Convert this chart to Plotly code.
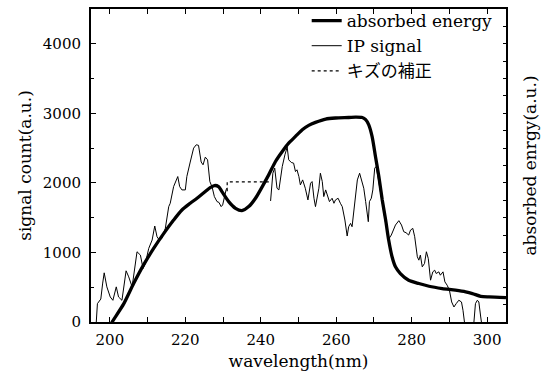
import plotly.graph_objects as go

# IP signal (thin line); None marks the gap that was corrected
ip_wl = [196.2, 196.4, 196.7, 197.3, 197.6, 198.1, 198.5, 199.2, 200.1, 200.8, 201.7, 202.3, 203.2,
         204.3, 205.0, 205.9, 207.2, 208.1, 208.8, 209.4, 210.3, 211.2, 211.9, 212.5, 213.1, 213.8,
         214.7, 215.6, 216.0, 216.9, 218.0, 218.5, 219.1, 220.0, 220.4, 221.3, 222.2, 222.9, 223.5,
         224.2, 224.7, 225.3, 225.9, 226.5, 227.1, 227.7, 228.4, 228.9, 229.5, 229.9, 230.4, 230.8,
         231.1, None,
         242.6, 243.2, 243.7, 244.3, 244.8, 245.7, 246.4, 247.0, 247.4, 248.1, 248.7, 249.2, 249.6,
         250.1, 250.5, 251.1, 251.8, 252.5, 253.2, 253.6, 254.1, 254.5, 255.4, 255.8, 256.3, 256.7,
         257.2, 257.6, 258.2, 258.9, 259.4, 259.8, 260.5, 261.1, 261.6, 262.3, 262.9, 263.3, 263.8,
         264.2, 264.9, 265.6, 266.2, 266.9, 267.3, 267.8, 268.5, 268.8, 269.3, 269.7, 270.2, 270.6,
         271.3, 272.2, 273.1, 274.0, 274.6, 275.7, 276.6, 277.3, 277.9, 278.5, 279.2, 279.7, 280.3,
         280.8, 281.5, 281.9, 282.3, 282.8, 283.4, 283.9, 284.4, 285.0, 285.6, 286.1, 286.5, 287.2,
         287.6, 288.3, 288.8, 289.4, 290.0, 290.6, 291.2, 291.8, 292.5, 293.2, 293.6, 294.1, 295.3,
         296.5, 296.9, 297.4, 297.8, 298.3, 298.6, 299.0]
ip_val = [-60, 0, 264, 312, 330, 560, 707, 505, 360, 312, 505, 360, 312,
          736, 649, 505, 1010, 962, 769, 841, 1058, 1178, 1380, 1226, 1178, 1202,
          1346, 1659, 1707, 1947, 2091, 1947, 1899, 1899, 2091, 2300, 2500, 2548, 2540,
          2300, 2260, 2370, 2332, 2020, 1940, 1803, 1731, 1720, 1659, 1683, 1810, 1899,
          1930, None,
          1740, 2139, 2212, 1923, 1899, 2236, 2404, 2514, 2332, 2293, 2284, 2163, 2188,
          2091, 1971, 2043, 1923, 1755, 1995, 2019, 1779, 1659, 1923, 2139, 2019, 1803,
          1899, 1827, 1731, 1779, 1707, 1755, 1779, 1707, 1659, 1466, 1236, 1370, 1418,
          1370, 1707, 2043, 2139, 2000, 1923, 1731, 1442, 1731, 1779, 1899, 2212, 2236,
          2000, 1700, 1420, 1200, 1250, 1394, 1457, 1394, 1298, 1284, 1250, 1322, 1346,
          1226, 938, 889, 962, 793, 841, 1010, 913, 601, 721, 745, 697, 721,
          673, 721, 577, 529, 457, 288, 216, 264, 313, 288, 168, -50, -200,
          0, 264, 313, 288, 72, -60, -200]

# absorbed energy (thick smooth line)
ae_wl = [200.3, 200.6, 203.7, 206.3, 208.9, 211.6, 214.3, 216.9, 219.1, 221.3, 223.1, 225.3, 226.6,
         227.7, 228.8, 229.7, 231.5, 233.3, 235.0, 236.8, 238.6, 240.4, 242.1, 243.9, 245.7, 247.4,
         249.2, 251.0, 252.7, 254.5, 257.2, 259.8, 263.3, 265.1, 266.9, 267.8, 268.6, 269.5, 270.4,
         271.3, 272.2, 273.1, 273.9, 274.8, 275.7, 277.0, 279.2, 281.9, 284.6, 288.1, 291.6, 294.3,
         296.1, 298.3, 300.5, 305.0]
ae_val = [-30, 0, 264, 553, 817, 1058, 1274, 1466, 1611, 1707, 1779, 1875, 1933,
          1962, 1947, 1875, 1731, 1635, 1601, 1659, 1779, 1947, 2115, 2308, 2452, 2572,
          2668, 2764, 2827, 2870, 2918, 2933, 2940, 2945, 2940, 2909, 2837, 2668, 2380,
          2091, 1755, 1466, 1178, 938, 793, 697, 601, 553, 514, 481, 457, 433,
          409, 370, 361, 351]

# correction of the defect (dotted)
fix_wl = [231.1, 231.1, 242.6]
fix_val = [1880, 2015, 2015]

FONT = "DejaVu Serif, Noto Sans CJK JP, serif"

fig = go.Figure()
fig.add_trace(go.Scatter(x=ae_wl, y=ae_val, mode="lines", name="absorbed energy",
                         line=dict(color="black", width=3.3, shape="spline", smoothing=0.7),
                         yaxis="y2"))
fig.add_trace(go.Scatter(x=ip_wl, y=ip_val, mode="lines", name="IP signal",
                         line=dict(color="black", width=1), connectgaps=False))
fig.add_trace(go.Scatter(x=fix_wl, y=fix_val, mode="lines", name="キズの補正",
                         line=dict(color="black", width=1.2, dash="dot")))

fig.update_layout(
    width=547, height=371,
    margin=dict(l=91, r=41, t=9, b=49, autoexpand=False),
    paper_bgcolor="white", plot_bgcolor="white",
    font=dict(family=FONT, size=15, color="black"),
    showlegend=True,
    legend=dict(x=0.98, y=1.019, xanchor="right", yanchor="top",
                bgcolor="rgba(0,0,0,0)", borderwidth=0,
                font=dict(size=17, family=FONT), tracegroupgap=0),
    xaxis=dict(range=[195, 305], dtick=20, tick0=200, ticks="inside", ticklen=5,
               tickwidth=1, tickcolor="black", automargin=True,
               minor=dict(dtick=10, ticks="inside", ticklen=5, tickcolor="black"),
               showline=True, linewidth=2, linecolor="black", mirror="ticks",
               showgrid=False, zeroline=False, ticklabelstandoff=3,
               title=dict(text="wavelength(nm)", font=dict(size=17), standoff=8)),
    yaxis=dict(range=[0, 4500], dtick=1000, ticks="inside", ticklen=5,
               tickwidth=1, tickcolor="black", automargin=True,
               minor=dict(dtick=500, ticks="inside", ticklen=3, tickcolor="black"),
               showline=True, linewidth=2, linecolor="black", mirror=False,
               showgrid=False, zeroline=False, ticklabelstandoff=5,
               title=dict(text="signal count(a.u.)", font=dict(size=17), standoff=7)),
    yaxis2=dict(range=[0, 4500], dtick=250, overlaying="y", side="right",
                ticks="inside", ticklen=3, tickcolor="black", automargin=True,
                showticklabels=False, showline=True, linewidth=2, linecolor="black",
                showgrid=False, zeroline=False,
                title=dict(text="absorbed enrgy(a.u.)", font=dict(size=17), standoff=17)),
)

fig.write_html("out.html", config={"displayModeBar": False},
               post_script="document.body.style.margin='0';document.body.style.overflow='hidden';")
